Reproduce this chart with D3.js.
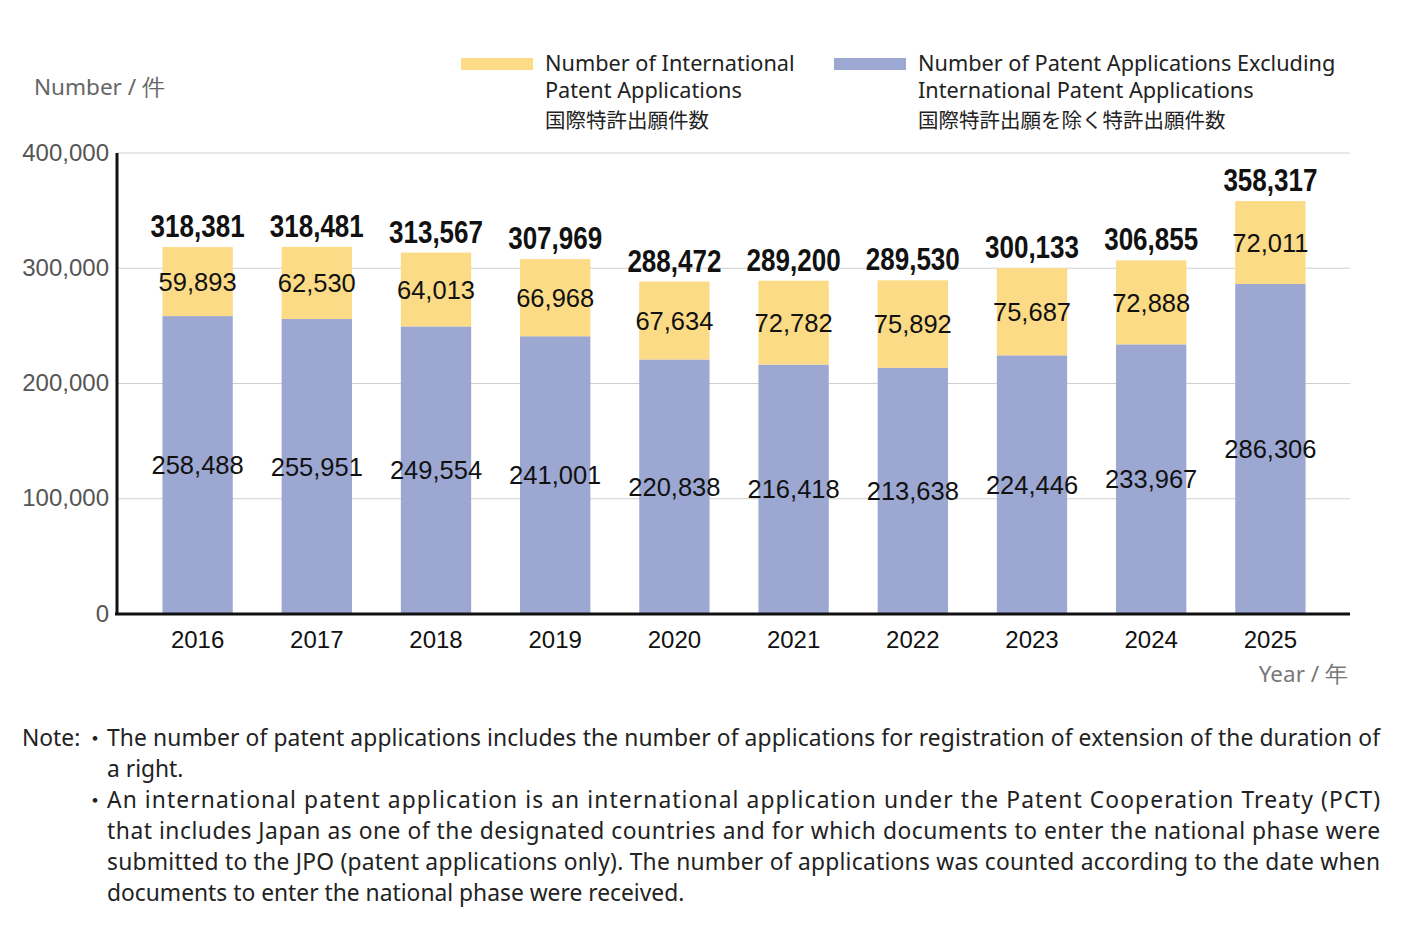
<!DOCTYPE html>
<html>
<head>
<meta charset="utf-8">
<script src="https://cdn.jsdelivr.net/npm/d3@7"></script>
<style>
  body { margin: 0; background: #fff; }
</style>
</head>
<body>
<div id="root"></div>
<script>
// chart data
var years = ["2016", "2017", "2018", "2019", "2020", "2021", "2022", "2023", "2024", "2025"]
var intlApps = [59893, 62530, 64013, 66968, 67634, 72782, 75892, 75687, 72888, 72011]
var otherApps = [258488, 255951, 249554, 241001, 220838, 216418, 213638, 224446, 233967, 286306]
var yTicks = [0, 100000, 200000, 300000, 400000]
var legendLabels = [
  ["Number of International", "Patent Applications", "国際特許出願件数"],
  ["Number of Patent Applications Excluding", "International Patent Applications", "国際特許出願を除く特許出願件数"]
]
var notes = [
  "The number of patent applications includes the number of applications for registration of extension of the duration of",
  "a right.",
  "An international patent application is an international application under the Patent Cooperation Treaty (PCT)",
  "that includes Japan as one of the designated countries and for which documents to enter the national phase were",
  "submitted to the JPO (patent applications only). The number of applications was counted according to the date when",
  "documents to enter the national phase were received."
]

var yellow = "#fbdb86"
var blue = "#9ca8d2"
var humanist = "'Noto Sans', 'Open Sans', sans-serif"
var arial = "'Liberation Sans', Arial, sans-serif"

var svg = d3.select("#root")
            .append("svg")
            .attr("width", 1415)
            .attr("height", 925)

var plotLeft = 117, plotRight = 1350, plotTop = 153, plotBottom = 614

var x = d3.scaleBand()
          .domain(years)
          .range([138, 1330])
          .paddingInner(0.41)
          .paddingOuter(0.205)

var y = d3.scaleLinear()
          .domain([0, 400000])
          .range([plotBottom, plotTop])

// grid lines
svg.selectAll(".grid")
    .data(yTicks.slice(1))
    .enter()
    .append("line")
      .attr("x1", plotLeft)
      .attr("x2", plotRight)
      .attr("y1", function(d){ return y(d) })
      .attr("y2", function(d){ return y(d) })
      .attr("stroke", "#cfcfcf")
      .attr("stroke-width", 1.2)

// y axis labels
var yAxis = svg.append("g")
    .attr("transform", "translate(" + (plotLeft - 2) + ",0)")
    .call(d3.axisLeft(y).tickValues(yTicks).tickSize(0).tickPadding(6).tickFormat(d3.format(",")))
yAxis.select(".domain").remove()
yAxis.selectAll("text")
    .attr("font-family", arial)
    .attr("font-size", 24)
    .attr("fill", "#555")
    .attr("dy", "0.3em")

var data = years.map(function(yr, i){
  return {year: yr, other: otherApps[i], intl: intlApps[i], total: otherApps[i] + intlApps[i]}
})

// blue bars
svg.selectAll(".bar-other")
    .data(data)
    .enter()
    .append("rect")
      .attr("x", function(d){ return x(d.year) })
      .attr("width", x.bandwidth())
      .attr("y", function(d){ return y(d.other) })
      .attr("height", function(d){ return y(0) - y(d.other) })
      .attr("fill", blue)

// yellow bars
svg.selectAll(".bar-intl")
    .data(data)
    .enter()
    .append("rect")
      .attr("x", function(d){ return x(d.year) })
      .attr("width", x.bandwidth())
      .attr("y", function(d){ return y(d.total) })
      .attr("height", function(d){ return y(d.other) - y(d.total) })
      .attr("fill", yellow)

// axis lines
svg.append("line")
    .attr("x1", plotLeft).attr("x2", plotLeft)
    .attr("y1", plotTop).attr("y2", plotBottom)
    .attr("stroke", "#111").attr("stroke-width", 3)
svg.append("line")
    .attr("x1", plotLeft - 2).attr("x2", plotRight)
    .attr("y1", plotBottom).attr("y2", plotBottom)
    .attr("stroke", "#111").attr("stroke-width", 3)

// x axis labels
var xAxis = svg.append("g")
    .attr("transform", "translate(0," + plotBottom + ")")
    .call(d3.axisBottom(x).tickSize(0).tickPadding(17))
xAxis.select(".domain").remove()
xAxis.selectAll("text")
    .attr("font-family", arial)
    .attr("font-size", 24)
    .attr("fill", "#111")

var cx = function(d){ return x(d.year) + x.bandwidth() / 2 }

// value labels (totals use a narrowed bold face)
svg.selectAll(".lbl-total")
    .data(data)
    .enter()
    .append("text")
      .attr("x", function(d){ return cx(d) - 47 })
      .attr("y", function(d){ return y(d.total) - 10 })
      .attr("font-family", arial)
      .attr("font-weight", "bold")
      .attr("font-size", 31)
      .attr("fill", "#111")
      .attr("textLength", 94)
      .attr("lengthAdjust", "spacingAndGlyphs")
      .text(function(d){ return d3.format(",")(d.total) })

svg.selectAll(".lbl-intl")
    .data(data)
    .enter()
    .append("text")
      .attr("x", cx)
      .attr("y", function(d){ return (y(d.total) + y(d.other)) / 2 })
      .attr("dy", "0.36em")
      .attr("text-anchor", "middle")
      .attr("font-family", arial)
      .attr("font-size", 25.5)
      .attr("fill", "#111")
      .text(function(d){ return d3.format(",")(d.intl) })

svg.selectAll(".lbl-other")
    .data(data)
    .enter()
    .append("text")
      .attr("x", cx)
      .attr("y", function(d){ return (y(d.other) + y(0)) / 2 })
      .attr("dy", "0.36em")
      .attr("text-anchor", "middle")
      .attr("font-family", arial)
      .attr("font-size", 25.5)
      .attr("fill", "#111")
      .text(function(d){ return d3.format(",")(d.other) })

// axis titles
svg.append("text")
    .attr("x", 34).attr("y", 95)
    .attr("font-family", humanist).attr("font-size", 22.5)
    .attr("fill", "#666")
    .text("Number / 件")
svg.append("text")
    .attr("x", 1348).attr("y", 682)
    .attr("text-anchor", "end")
    .attr("font-family", humanist).attr("font-size", 22.5)
    .attr("fill", "#777")
    .text("Year / 年")

// legend
var legendX = [461, 834]
var legendColors = [yellow, blue]
legendLabels.forEach(function(lines, i){
  var g = svg.append("g")
  g.append("rect")
    .attr("x", legendX[i]).attr("y", 58)
    .attr("width", 72).attr("height", 12)
    .attr("fill", legendColors[i])
  g.selectAll("text")
    .data(lines)
    .enter()
    .append("text")
      .attr("x", legendX[i] + 84)
      .attr("y", function(d, j){ return [71, 98, 128][j] })
      .attr("font-family", function(d, j){ return j == 2 ? "'Noto Sans CJK JP', sans-serif" : humanist })
      .attr("font-size", function(d, j){ return j == 2 ? 20.5 : 21.7 })
      .attr("fill", "#222")
      .text(function(d){ return d })
})

// notes
svg.append("text")
    .attr("x", 22).attr("y", 746)
    .attr("font-family", humanist).attr("font-size", 22.8)
    .attr("fill", "#222")
    .text("Note:")
svg.selectAll(".bullet")
    .data([746, 808])
    .enter()
    .append("text")
      .attr("x", 84).attr("y", function(d){ return d })
      .attr("font-family", "'Noto Sans CJK JP', sans-serif").attr("font-size", 22)
      .attr("fill", "#222")
      .text("・")
var justified = [true, false, true, true, true, false]
notes.forEach(function(line, i){
  var t = svg.append("text")
    .attr("x", 107).attr("y", 746 + i * 31)
    .attr("font-family", humanist).attr("font-size", 22.8)
    .attr("fill", "#222")
    .text(line)
  if (justified[i]) t.attr("textLength", 1273).attr("lengthAdjust", "spacing")
})
</script>
</body>
</html>
